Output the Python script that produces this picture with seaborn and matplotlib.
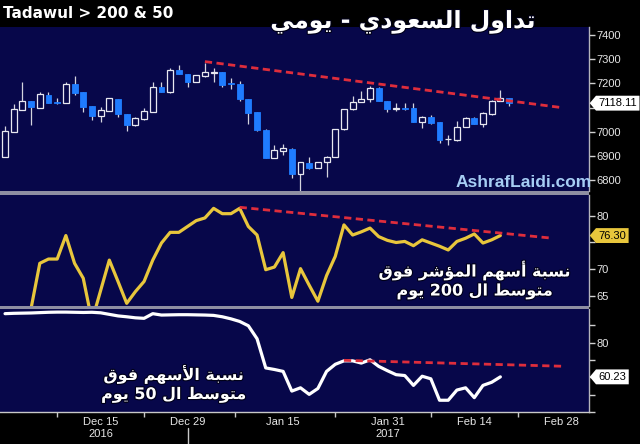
import re
import numpy as np
import pandas as pd
import matplotlib
matplotlib.use("Agg")
import matplotlib.pyplot as plt
import matplotlib.patheffects as pe
from matplotlib.path import Path
from matplotlib.patches import Rectangle
from matplotlib.transforms import blended_transform_factory
import seaborn as sns

# ---------------- data ----------------
# Tadawul All Share daily candles, 30 Nov 2016 - 20 Feb 2017
opens = [6895, 7000, 7090, 7127, 7100, 7152, 7122, 7117, 7196, 7163,
         7106, 7065, 7085, 7135, 7073, 7027, 7052, 7083, 7186, 7163,
         7255, 7239, 7207, 7232, 7244, 7248, 7200, 7196, 7134, 7082,
         7007, 6892, 6921, 6928, 6825, 6871, 6852, 6873, 6896, 7010,
         7092, 7124, 7134, 7179, 7128, 7096, 7097, 7097, 7041, 7062,
         7039, 6968, 6965, 7020, 7058, 7032, 7073, 7128, 7138]
highs = [7023, 7114, 7205, 7127, 7164, 7165, 7140, 7205, 7231, 7163,
         7106, 7103, 7140, 7135, 7073, 7060, 7097, 7207, 7207, 7263,
         7276, 7239, 7236, 7283, 7262, 7248, 7221, 7210, 7134, 7082,
         7011, 6945, 6949, 6932, 6876, 6896, 6876, 6898, 7013, 7095,
         7148, 7169, 7189, 7183, 7128, 7117, 7120, 7117, 7064, 7069,
         7039, 6986, 7045, 7062, 7062, 7080, 7131, 7172, 7141]
lows = [6895, 6998, 7090, 7027, 7098, 7120, 7113, 7117, 7152, 7082,
        7048, 7041, 7085, 7062, 7003, 7022, 7048, 7083, 7163, 7160,
        7239, 7186, 7205, 7227, 7207, 7186, 7175, 7127, 7032, 7002,
        6890, 6890, 6903, 6808, 6746, 6846, 6850, 6813, 6894, 7008,
        7090, 7122, 7124, 7126, 7082, 7085, 7090, 7040, 7014, 7033,
        6954, 6945, 6963, 7018, 7030, 7020, 7071, 7127, 7106]
closes = [7002, 7094, 7127, 7102, 7156, 7120, 7118, 7196, 7159, 7103,
          7065, 7090, 7138, 7073, 7027, 7055, 7085, 7186, 7163, 7255,
          7239, 7207, 7234, 7246, 7245, 7193, 7199, 7134, 7078, 7007,
          6892, 6924, 6934, 6825, 6874, 6852, 6874, 6896, 7011, 7092,
          7124, 7134, 7179, 7128, 7096, 7097, 7095, 7041, 7062, 7035,
          6965, 6969, 7020, 7058, 7032, 7076, 7128, 7138, 7118.11]

# % of index members above their 200-day moving average
pct_above_200 = [61.2, 60.8, 61.5, 62.7, 71.1, 71.9, 71.9, 76.3, 71.1, 68.3,
                 60.3, 66.0, 71.7, 67.7, 63.6, 65.8, 67.7, 71.7, 74.9, 76.9,
                 76.9, 78.0, 79.1, 79.6, 81.4, 80.4, 80.4, 81.4, 78.0, 76.4,
                 69.9, 70.4, 73.1, 64.7, 70.1, 67.0, 64.0, 68.8, 72.4, 78.3,
                 76.4, 77.0, 77.7, 76.1, 75.4, 75.0, 75.2, 74.4, 75.5, 74.9,
                 74.3, 73.6, 75.2, 75.8, 76.6, 74.9, 75.5, 76.30]

# % of index members above their 50-day moving average
pct_above_50 = [96.8, 97.0, 97.1, 97.2, 97.4, 97.6, 97.7, 97.7, 97.6, 97.5,
                97.6, 97.3, 96.4, 95.5, 95.0, 94.4, 94.1, 96.8, 96.0, 96.1,
                96.2, 96.2, 96.1, 96.0, 95.8, 95.0, 93.8, 92.3, 89.8, 82.3,
                65.4, 64.5, 63.4, 52.0, 53.9, 50.1, 53.5, 63.4, 67.5, 69.5,
                69.5, 68.2, 70.1, 66.3, 63.8, 61.5, 61.0, 55.3, 60.6, 59.1,
                46.7, 46.7, 52.6, 53.9, 48.2, 55.3, 57.1, 60.23]

# resistance lines (dates, values)
trend_index_dates = ["2017-01-02", "2017-02-28"]
trend_index_vals = [7290, 7100]
trend_200_dates = ["2017-01-08", "2017-02-27"]
trend_200_vals = [81.6, 75.8]
trend_50_dates = ["2017-01-24", "2017-02-28"]
trend_50_vals = [69.8, 66.4]

tick_dates = ["2016-12-15", "2016-12-29", "2017-01-15",
              "2017-01-31", "2017-02-14", "2017-02-28"]
tick_labels = ["Dec 15\n2016", "Dec 29", "Jan 15", "Jan 31\n2017", "Feb 14", "Feb 28"]
index_ticks = [6800, 6900, 7000, 7100, 7200, 7300, 7400]
b200_ticks = [65, 70, 75, 80]
b50_ticks = [40, 50, 60, 70, 80, 90]
b50_labelled = [80]

title_en = "Tadawul > 200 & 50"
title_ar = "تداول السعودي - يومي"
note_200 = ["نسبة أسهم المؤشر فوق", "متوسط ال 200 يوم"]
note_50 = ["نسبة الأسهم فوق", "متوسط ال 50 يوم"]
site = "AshrafLaidi.com"

# ---------------- Arabic shaping (contextual forms + visual order) ----------------
FORMS = {
    "ا": (0xFE8D, 0xFE8E, None, None), "أ": (0xFE83, 0xFE84, None, None),
    "ؤ": (0xFE85, 0xFE86, None, None), "ب": (0xFE8F, 0xFE90, 0xFE91, 0xFE92),
    "ة": (0xFE93, 0xFE94, None, None), "ت": (0xFE95, 0xFE96, 0xFE97, 0xFE98),
    "د": (0xFEA9, 0xFEAA, None, None), "ر": (0xFEAD, 0xFEAE, None, None),
    "س": (0xFEB1, 0xFEB2, 0xFEB3, 0xFEB4), "ش": (0xFEB5, 0xFEB6, 0xFEB7, 0xFEB8),
    "ط": (0xFEC1, 0xFEC2, 0xFEC3, 0xFEC4), "ع": (0xFEC9, 0xFECA, 0xFECB, 0xFECC),
    "ف": (0xFED1, 0xFED2, 0xFED3, 0xFED4), "ق": (0xFED5, 0xFED6, 0xFED7, 0xFED8),
    "ل": (0xFEDD, 0xFEDE, 0xFEDF, 0xFEE0), "م": (0xFEE1, 0xFEE2, 0xFEE3, 0xFEE4),
    "ن": (0xFEE5, 0xFEE6, 0xFEE7, 0xFEE8), "ه": (0xFEE9, 0xFEEA, 0xFEEB, 0xFEEC),
    "و": (0xFEED, 0xFEEE, None, None), "ي": (0xFEF1, 0xFEF2, 0xFEF3, 0xFEF4),
}
LAM_ALEF = {"ا": (0xFEFB, 0xFEFC), "أ": (0xFEF7, 0xFEF8)}


def shape_ar(text):
    def joins_next(ch):
        return ch in FORMS and FORMS[ch][2] is not None
    out, i, n = [], 0, len(text)
    while i < n:
        ch = text[i]
        if ch not in FORMS:
            out.append(ch)
            i += 1
            continue
        linked_prev = i > 0 and joins_next(text[i - 1])
        if ch == "ل" and i + 1 < n and text[i + 1] in LAM_ALEF:
            iso, fin = LAM_ALEF[text[i + 1]]
            out.append(chr(fin if linked_prev else iso))
            i += 2
            continue
        linked_next = joins_next(ch) and i + 1 < n and text[i + 1] in FORMS
        iso, fin, ini, med = FORMS[ch]
        if linked_prev and linked_next:
            g = med
        elif linked_prev:
            g = fin
        elif linked_next:
            g = ini
        else:
            g = iso
        out.append(chr(g))
        i += 1
    tokens = re.findall(r"\d+|\D", "".join(out))
    return "".join(reversed(tokens))


# ---------------- styling ----------------
sns.set_theme(style="dark")
plt.rcParams["font.family"] = ["DejaVu Sans"]
NAVY = "#07074a"
BLUE = "#1f7cff"
GOLD = "#e8c63c"
RED = "#de2d3c"
SEP = "#8e8ea2"
LABEL = "#e6e6e6"

W, H = 640, 444
fig = plt.figure(figsize=(W / 100, H / 100), dpi=100, facecolor="black")


def frame(top, bottom, right=589):
    return [0, 1 - bottom / H, right / W, (bottom - top) / H]


ax1 = fig.add_axes(frame(27, 191))
ax2 = fig.add_axes(frame(195, 306), sharex=ax1)
ax3 = fig.add_axes(frame(309, 412), sharex=ax1)

sessions = pd.bdate_range("2016-11-30", "2017-03-09", freq="C",
                          weekmask="Sun Mon Tue Wed Thu")
pos = {d: i for i, d in enumerate(sessions)}


def loc(d):
    return pos[pd.Timestamp(d)]


for ax in (ax1, ax2, ax3):
    ax.set_facecolor(NAVY)
    ax.grid(False)
    for side in ("top", "left", "bottom"):
        ax.spines[side].set_visible(False)
    ax.spines["right"].set_color("#b4b4bc")
    ax.spines["right"].set_linewidth(1.0)
    ax.yaxis.tick_right()
    ax.tick_params(axis="y", which="both", direction="out", length=4, width=1,
                   color="#d0d0d0", labelcolor=LABEL, labelsize=8, pad=1.5,
                   right=True, left=False)

# ---- candles ----
o, hi, lo, c = (np.asarray(a, float) for a in (opens, highs, lows, closes))
x = np.arange(len(o))
up = c >= o
body = np.maximum(np.abs(c - o), 1.5)
base = np.minimum(o, c)
ax1.vlines(x, lo, hi, color="#d4d4de", lw=0.9, zorder=2)
ax1.bar(x[up], body[up], bottom=base[up], width=0.68, color=NAVY,
        edgecolor="#e8e8f0", linewidth=0.9, zorder=3)
ax1.bar(x[~up], body[~up], bottom=base[~up], width=0.68, color=BLUE,
        edgecolor=BLUE, linewidth=0.6, zorder=3)

# ---- breadth lines ----
sns.lineplot(x=np.arange(len(pct_above_200)), y=pct_above_200, ax=ax2,
             color=GOLD, linewidth=2.3, zorder=3)
sns.lineplot(x=np.arange(len(pct_above_50)), y=pct_above_50, ax=ax3,
             color="white", linewidth=2.3, zorder=3)

# ---- resistance lines ----
for ax, dates, vals in ((ax1, trend_index_dates, trend_index_vals),
                        (ax2, trend_200_dates, trend_200_vals),
                        (ax3, trend_50_dates, trend_50_vals)):
    ax.plot([loc(d) for d in dates], vals, color=RED, lw=2.0,
            dashes=(2.6, 1.6), zorder=4)

# ---- scales ----
ax1.set_xlim(-0.58, 67.2)
ax1.set_ylim(6755, 7433)
ax2.set_ylim(63.1, 83.9)
ax3.set_ylim(39.9, 99.5)


def right_ticks(ax, ticks, hidden_near=None, shown=None):
    """Label the right axis; a label sitting under the last-value tag is left blank."""
    labels = []
    for v in ticks:
        hide = hidden_near is not None and abs(v - hidden_near) < (ticks[1] - ticks[0]) * 0.6
        if shown is not None and v not in shown:
            hide = True
        labels.append("" if hide else str(v))
    ax.set_yticks(ticks)
    ax.set_yticklabels(labels)
    for t in ax.get_yticklabels():
        t.set_fontfamily("Liberation Sans")
    ax.set_ylabel("")


right_ticks(ax1, index_ticks, hidden_near=closes[-1])
right_ticks(ax2, b200_ticks, hidden_near=pct_above_200[-1])
right_ticks(ax3, b50_ticks, shown=b50_labelled)

for ax in (ax1, ax2):
    ax.tick_params(axis="x", which="both", bottom=False, labelbottom=False)

tick_pos = [loc(d) for d in tick_dates]
mids = [tick_pos[0] - (tick_pos[1] - tick_pos[0]) / 2] + \
       [(a + b) / 2 for a, b in zip(tick_pos[:-1], tick_pos[1:])]
ax3.set_xticks(tick_pos)
ax3.set_xticklabels(tick_labels)
ax3.set_xticks(mids, minor=True)
ax3.tick_params(axis="x", which="major", length=0, pad=3.5,
                labelcolor=LABEL, labelsize=8, bottom=True)
ax3.tick_params(axis="x", which="minor", length=3.5, width=1,
                color="#c8c8c8", direction="out", bottom=True)
for t in ax3.get_xticklabels():
    t.set_fontfamily("Liberation Sans")
    t.set_linespacing(1.25)
ax3.spines["bottom"].set_visible(True)
ax3.spines["bottom"].set_color("#c8c8c8")
ax3.spines["bottom"].set_linewidth(1.0)
ax3.set_xlabel("")

# year boundary marker under the date labels
year_end = max(i for d, i in pos.items() if d.year == 2016)
ax3.plot([year_end, year_end], [-0.155, -0.33], color="#c8c8c8", lw=1,
         transform=blended_transform_factory(ax3.transData, ax3.transAxes),
         clip_on=False)

# panel separators
for top, bottom in ((191, 195), (306, 309)):
    fig.add_artist(Rectangle((0, 1 - bottom / H), 589 / W, (bottom - top) / H,
                             transform=fig.transFigure, color=SEP, lw=0))


# ---- last-value tags ----
class TagBox:
    def __init__(self, pad=0.22, tip=0.42):
        self.pad, self.tip = pad, tip

    def __call__(self, x0, y0, width, height, mutation_size):
        p = mutation_size * self.pad
        x0, y0, width, height = x0 - p, y0 - p, width + 2 * p, height + 2 * p
        x1, y1 = x0 + width, y0 + height
        tip = height * self.tip
        verts = [(x0, y0), (x1, y0), (x1, y1), (x0, y1),
                 (x0 - tip, y0 + height / 2), (x0, y0)]
        return Path(verts, closed=True)


def tag(ax, value, text, face):
    ax.text(1.016, value, text, transform=ax.get_yaxis_transform(),
            ha="left", va="center", fontsize=8, family="Liberation Sans",
            color="black", clip_on=False, zorder=10,
            bbox=dict(boxstyle=TagBox(), fc=face, ec="none"))


tag(ax1, closes[-1], f"{closes[-1]:.2f}", "white")
tag(ax2, pct_above_200[-1], f"{pct_above_200[-1]:.2f}", GOLD)
tag(ax3, pct_above_50[-1], f"{pct_above_50[-1]:.2f}", "white")

# ---- titles and notes ----
outline = [pe.withStroke(linewidth=1.6, foreground="#000018")]
fig.text(3 / W, 1 - 13 / H, title_en, ha="left", va="center", color="white",
         fontsize=11, fontweight="bold", family="DejaVu Sans")
fig.text(403 / W, 1 - 22 / H, shape_ar(title_ar), ha="center", va="center",
         color="white", fontsize=17, fontweight="bold", family="DejaVu Sans",
         path_effects=outline)
fig.text(475 / W, 1 - 280 / H, "\n".join(shape_ar(s) for s in note_200),
         ha="center", va="center", multialignment="center", color="white",
         fontsize=11.5, fontweight="bold", family="DejaVu Sans",
         linespacing=1.25, path_effects=outline)
fig.text(174 / W, 1 - 384 / H, "\n".join(shape_ar(s) for s in note_50),
         ha="center", va="center", multialignment="center", color="white",
         fontsize=11.5, fontweight="bold", family="DejaVu Sans",
         linespacing=1.25, path_effects=outline)
fig.text(524 / W, 1 - 182 / H, site, ha="center", va="center", color="#a6cdf4",
         fontsize=12.5, fontweight="bold", family="Liberation Sans")

fig.savefig("out.png", dpi=100, facecolor="black")
